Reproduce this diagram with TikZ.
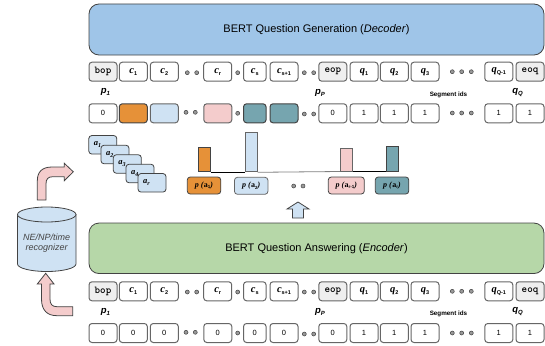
\documentclass[tikz,border=0pt]{standalone}
\usepackage{fontspec}
\setsansfont{Liberation Sans}
\newfontfamily\tokfont{Liberation Serif}
\definecolor{bertblue}{HTML}{9FC5E8}
\definecolor{bertgreen}{HTML}{B6D7A8}
\definecolor{ansorange}{HTML}{E69138}
\definecolor{anslight}{HTML}{CFE2F3}
\definecolor{anspink}{HTML}{F4CCCC}
\definecolor{ansteal}{HTML}{76A5AF}
\definecolor{specgrey}{HTML}{EFEFEF}
\definecolor{edgedark}{HTML}{434343}
\definecolor{edgegrey}{HTML}{666666}
\newcommand{\tok}[2]{{\tokfont\bfseries\itshape\fontsize{10.5}{11}\selectfont #1{\raisebox{-2pt}{\sffamily\upshape\fontsize{5.5}{6}\selectfont #2}}}}
\newcommand{\cand}[2]{{\tokfont\bfseries\itshape\fontsize{8.5}{9}\selectfont #1{\raisebox{-2pt}{\fontsize{6}{7}\selectfont #2}}}}
\newcommand{\spectok}[1]{{\ttfamily\bfseries\fontsize{10.5}{11}\selectfont #1}}
\newcommand{\prob}[1]{{\tokfont\bfseries\fontsize{8}{9}\selectfont\textit{p (}a{\raisebox{-1.5pt}{\sffamily\fontsize{4.5}{5}\selectfont #1}}\textit{)}}}
\newcommand{\capsub}[2]{#1{\raisebox{-2pt}{\fontsize{6}{7}\selectfont #2}}}
\tikzset{
  bertbox/.style={draw=edgedark, line width=.8pt, rounded corners=10pt, inner sep=0pt, minimum width=455pt, font=\sffamily\fontsize{11}{13}\selectfont},
  tokbox/.style={draw=edgegrey, line width=1pt, fill=white, rounded corners=3pt, inner sep=0pt, minimum height=19pt, minimum width=28pt},
  specbox/.style={tokbox, fill=specgrey},
  segbox/.style={tokbox, font=\sffamily\fontsize{7.5}{9}\selectfont},
  colbox/.style={tokbox, draw=edgedark, fill=#1},
  stackcard/.style={draw=edgedark, line width=.8pt, fill=anslight, rounded corners=3pt, inner ysep=0pt, inner xsep=5pt, text width=18pt, minimum height=18.5pt, align=left},
  probbox/.style={draw=edgedark, line width=.8pt, fill=#1, rounded corners=3pt, inner sep=0pt, minimum height=17pt, minimum width=33.5pt},
  probbar/.style={draw=edgedark, line width=1pt, fill=#1, inner sep=0pt, minimum width=12pt, anchor=south},
  tokdot/.style={circle, draw=edgedark, fill=gray!80, line width=.5pt, inner sep=0pt, minimum size=4pt},
  tokcap/.style={font=\sffamily\bfseries\itshape\fontsize{9.5}{10}\selectfont, inner sep=0pt},
  blockarrow/.style={draw=edgedark, line width=.8pt, fill=anspink, line join=miter}
}
\begin{document}
\begin{tikzpicture}[x=1pt,y=-1pt]
	\useasboundingbox (0,0) rectangle (545,345);

	% decoder
	\node [bertbox, fill=bertblue, minimum height=51pt] (decoder) at (316.5,29.5) {BERT Question Generation (\textit{Decoder})};

	\node [specbox] (dbop) at (103,71.7) {\spectok{bop}};
	\node [tokbox] (dc1) at (133.3,71.7) {\tok{c}{1}};
	\node [tokbox] (dc2) at (164.3,71.7) {\tok{c}{2}};
	\node [tokdot] (dd1) at (187.3,72.7) {};
	\node [tokdot] (dd2) at (196.7,72.7) {};
	\node [tokbox] (dcr) at (217.7,71.7) {\tok{c}{r}};
	\node [tokdot] (dd3) at (237.7,72.7) {};
	\node [tokbox, minimum width=22.5pt] (dcs) at (254.8,71.7) {\tok{c}{s}};
	\node [tokbox] (dcs1) at (284,71.7) {\tok{c}{s+1}};
	\node [tokdot] (dd4) at (304.3,72.7) {};
	\node [tokdot] (dd5) at (313.7,72.7) {};
	\node [specbox] (deop) at (332.8,71.7) {\spectok{eop}};
	\node [tokbox] (dq1) at (364,71.7) {\tok{q}{1}};
	\node [tokbox] (dq2) at (394.3,71.7) {\tok{q}{2}};
	\node [tokbox] (dq3) at (425,71.7) {\tok{q}{3}};
	\node [tokdot] (dd6) at (452.3,71.7) {};
	\node [tokdot] (dd7) at (461.7,71.7) {};
	\node [tokdot] (dd8) at (471.3,71.7) {};
	\node [tokbox] (dqq) at (498.8,71.7) {\tok{q}{Q-1}};
	\node [specbox] (deoq) at (530,71.7) {\spectok{eoq}};

	\node [tokcap] (dp1) at (105.5,91.5) {\capsub{p}{1}};
	\node [tokcap] (dpp) at (320,93) {\capsub{p}{P}};
	\node [font=\sffamily\bfseries\fontsize{6.3}{8}\selectfont, inner sep=0pt] (dseg) at (448.5,94.5) {Segment ids};
	\node [tokcap] (dqcap) at (517.5,93) {\capsub{q}{Q}};

	\node [segbox] (ds1) at (103,113.3) {0};
	\node [colbox=ansorange] (ds2) at (133.3,113.3) {};
	\node [colbox=anslight, draw=edgegrey] (ds3) at (164.3,113.3) {};
	\node [tokdot] (dd9) at (186,112.3) {};
	\node [tokdot] (dd10) at (195.3,112.3) {};
	\node [colbox=anspink, draw=edgegrey] (ds4) at (217.8,113.3) {};
	\node [tokdot] (dd11) at (237.7,113.3) {};
	\node [colbox=ansteal, minimum width=22.5pt] (ds5) at (254.8,113.3) {};
	\node [colbox=ansteal] (ds6) at (284,113.3) {};
	\node [tokdot] (dd12) at (304.3,114) {};
	\node [tokdot] (dd13) at (313.7,114) {};
	\node [segbox] (ds7) at (332.8,113.3) {0};
	\node [segbox] (ds8) at (364,113.3) {1};
	\node [segbox] (ds9) at (394.3,113.3) {1};
	\node [segbox] (ds10) at (425,113.3) {1};
	\node [tokdot] (dd14) at (452.3,113) {};
	\node [tokdot] (dd15) at (461.7,113) {};
	\node [tokdot] (dd16) at (471.3,113) {};
	\node [segbox] (ds11) at (498.8,113.3) {1};
	\node [segbox] (ds12) at (530,113.3) {1};

	% answer candidates
	\node [stackcard] (cand1) at (102.8,144.8) {\cand{a}{1}};
	\node [stackcard] (cand2) at (115,154.5) {\cand{a}{2}};
	\node [stackcard] (cand3) at (127.3,164) {\cand{a}{3}};
	\node [stackcard] (cand4) at (140,173.5) {\cand{a}{4}};
	\node [stackcard] (cand5) at (152,182.8) {\cand{a}{r}};

	% bars
	\node [probbar=ansorange, minimum height=24.5pt] (bar1) at (204,172.3) {};
	\node [probbar=anslight, draw=edgegrey, minimum height=39.5pt] (bar2) at (251,172.3) {};
	\node [probbar=anspink, draw=edgegrey, minimum height=22.5pt] (bar3) at (346.5,171.5) {};
	\node [probbar=ansteal, minimum height=25pt] (bar4) at (392,171.5) {};
	\draw [line width=.8pt] (bar1.south east) -- (bar2.south west);
	\draw [line width=.8pt, gray] (bar2.south east) -- (bar3.south west);
	\draw [line width=.8pt] (bar3.south east) -- (bar4.south west);

	\node [probbox=ansorange] (prob1) at (204,185.5) {\prob{1}};
	\node [probbox=anslight, draw=edgegrey] (prob2) at (251.2,185.8) {\prob{2}};
	\node [tokdot] (pd1) at (293.7,186) {};
	\node [tokdot] (pd2) at (303,186) {};
	\node [probbox=anspink, minimum width=36pt] (prob3) at (346.3,185.5) {\prob{r-1}};
	\node [probbox=ansteal] (prob4) at (392,185.5) {\prob{r}};

	\draw [draw=edgedark, line width=.8pt, fill=anslight] (292.5,218) -- (303.5,218) -- (303.5,209) -- (309,209) -- (298,202) -- (287,209) -- (292.5,209) -- cycle;

	% encoder
	\node [bertbox, fill=bertgreen, minimum height=50.5pt] (encoder) at (316.5,248.3) {BERT Question Answering (\textit{Encoder})};

	\node [specbox] (ebop) at (103,291.3) {\spectok{bop}};
	\node [tokbox] (ec1) at (133.3,291.3) {\tok{c}{1}};
	\node [tokbox] (ec2) at (164.3,291.3) {\tok{c}{2}};
	\node [tokdot] (ed1) at (187.3,292) {};
	\node [tokdot] (ed2) at (196.7,292) {};
	\node [tokbox] (ecr) at (217.7,291.3) {\tok{c}{r}};
	\node [tokdot] (ed3) at (237.7,292) {};
	\node [tokbox, minimum width=22.5pt] (ecs) at (254.8,291.3) {\tok{c}{s}};
	\node [tokbox] (ecs1) at (284,291.3) {\tok{c}{s+1}};
	\node [tokdot] (ed4) at (304.3,292) {};
	\node [tokdot] (ed5) at (313.7,292) {};
	\node [specbox] (eeop) at (332.8,291.3) {\spectok{eop}};
	\node [tokbox] (eq1) at (364,291.3) {\tok{q}{1}};
	\node [tokbox] (eq2) at (394.3,291.3) {\tok{q}{2}};
	\node [tokbox] (eq3) at (425,291.3) {\tok{q}{3}};
	\node [tokdot] (ed6) at (452.3,291.3) {};
	\node [tokdot] (ed7) at (461.7,291.3) {};
	\node [tokdot] (ed8) at (471.3,291.3) {};
	\node [tokbox] (eqq) at (498.8,291.3) {\tok{q}{Q-1}};
	\node [specbox] (eeoq) at (530,291.3) {\spectok{eoq}};

	\node [tokcap] (ep1) at (105.5,311.5) {\capsub{p}{1}};
	\node [tokcap] (epp) at (320,312) {\capsub{p}{P}};
	\node [font=\sffamily\bfseries\fontsize{6.3}{8}\selectfont, inner sep=0pt] (eseg) at (448.5,313.5) {Segment ids};
	\node [tokcap] (eqcap) at (517.5,312) {\capsub{q}{Q}};

	\node [segbox] (es1) at (103,333) {0};
	\node [segbox] (es2) at (133.3,333) {0};
	\node [segbox] (es3) at (164.3,333) {0};
	\node [tokdot] (ed9) at (186,332.3) {};
	\node [tokdot] (ed10) at (195.3,332.3) {};
	\node [segbox] (es4) at (217.8,333) {0};
	\node [tokdot] (ed11) at (237.7,333) {};
	\node [segbox, minimum width=22.5pt] (es5) at (254.8,333) {0};
	\node [segbox] (es6) at (284,333) {0};
	\node [tokdot] (ed12) at (304.3,334) {};
	\node [tokdot] (ed13) at (313.7,334) {};
	\node [segbox] (es7) at (332.8,333) {0};
	\node [segbox] (es8) at (364,333) {1};
	\node [segbox] (es9) at (394.3,333) {1};
	\node [segbox] (es10) at (425,333) {1};
	\node [tokdot] (ed14) at (452.3,333) {};
	\node [tokdot] (ed15) at (461.7,333) {};
	\node [tokdot] (ed16) at (471.3,333) {};
	\node [segbox] (es11) at (498.8,333) {1};
	\node [segbox] (es12) at (530,333) {1};

	% recognizer
	\draw [draw=edgedark, line width=.8pt, fill=anslight] (17.5,214.5) -- (17.5,264) arc [start angle=180, end angle=0, x radius=29.25, y radius=7.5] -- (76,214.5) -- cycle;
	\draw [draw=edgedark, line width=.8pt, fill=anslight] (46.75,214.5) ellipse [x radius=29.25, y radius=7.5];
	\node [inner sep=0pt, align=center, text=edgedark, font=\sffamily\itshape\fontsize{9}{10.5}\selectfont] (recognizer) at (46.7,243) {NE/NP/time\\recognizer};

	% pink arrows
	\draw [blockarrow] (37.3,200) -- (46,200) -- (46,184) .. controls (46,179) and (48,176.7) .. (53,176.7) -- (64.3,176.7) -- (64.3,180.7) -- (73.3,171.8) -- (64.3,163.3) -- (64.3,167) -- (52,167) .. controls (42,167) and (37.3,172) .. (37.3,181) -- cycle;
	\draw [blockarrow] (72.7,315.7) -- (72.7,306.7) -- (57,306.7) .. controls (52,306.7) and (50,304) .. (50,299) -- (50,284) -- (54,284) -- (45.7,273.3) -- (37.3,284) -- (41.5,284) -- (41.5,299) .. controls (41.5,310) and (47,315.7) .. (57,315.7) -- cycle;
\end{tikzpicture}
\end{document}
